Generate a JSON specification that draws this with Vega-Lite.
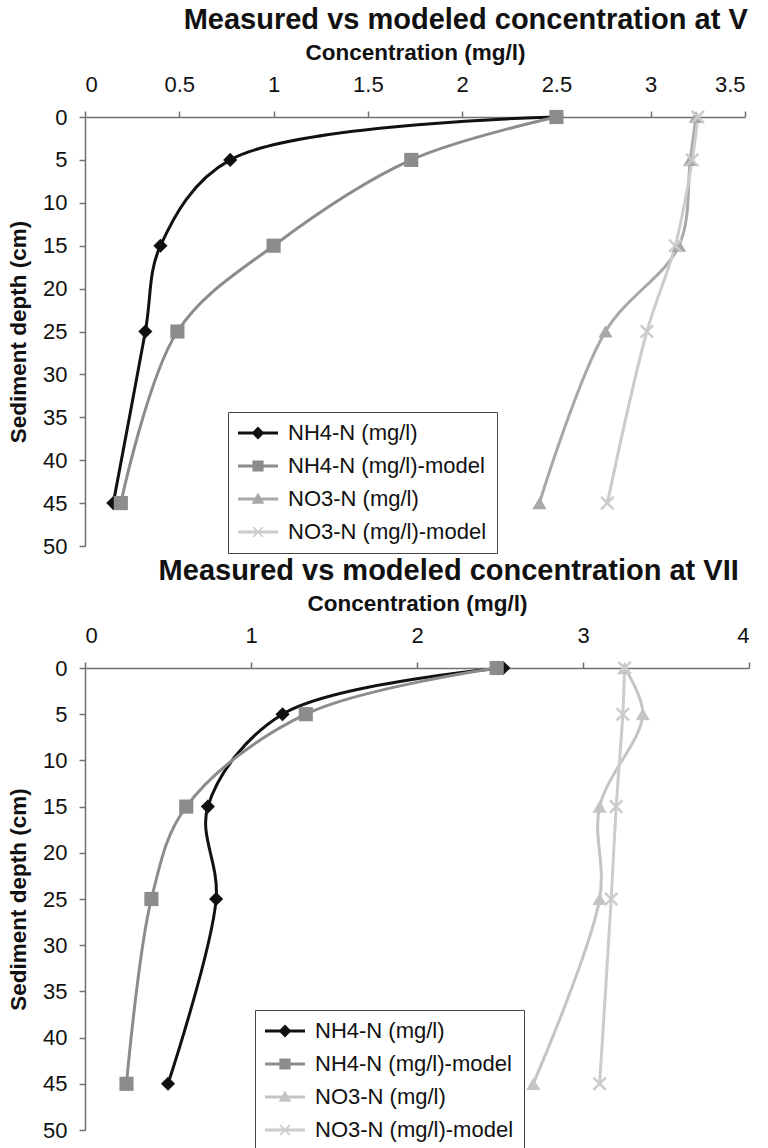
{
  "$schema": "https://vega.github.io/schema/vega-lite/v6.json",
  "background": "white",
  "padding": {"left": 7, "top": 6, "right": 4, "bottom": 0},
  "spacing": 0,
  "config": {
    "font": "Liberation Sans",
    "view": {"stroke": null},
    "axis": {"grid": false, "domainColor": "#707070", "domainWidth": 1.5, "tickColor": "#707070", "tickWidth": 1.5, "tickSize": 6, "labelFontSize": 22, "labelColor": "#111111", "titleFontSize": 22.5, "titleFontWeight": "bold", "titleColor": "#111111", "labelFont": "Liberation Sans", "titleFont": "Liberation Sans"},
    "title": {"font": "Liberation Sans", "fontSize": 29, "fontWeight": "bold", "color": "#111111"}
  },
  "resolve": {"scale": {"color": "independent", "shape": "independent", "fill": "independent"}, "legend": {"color": "independent", "shape": "independent", "fill": "independent"}},
  "vconcat": [
    {
      "width": 660,
      "height": 429,
      "title": {"text": "Measured vs modeled concentration at V", "anchor": "end", "dx": 2, "offset": 6},
      "data": {"values": [
        {"series": "NH4-N (mg/l)", "depth": 0, "conc": 2.5},
        {"series": "NH4-N (mg/l)", "depth": 5, "conc": 0.77},
        {"series": "NH4-N (mg/l)", "depth": 15, "conc": 0.4},
        {"series": "NH4-N (mg/l)", "depth": 25, "conc": 0.32},
        {"series": "NH4-N (mg/l)", "depth": 45, "conc": 0.15},
        {"series": "NH4-N (mg/l)-model", "depth": 0, "conc": 2.5},
        {"series": "NH4-N (mg/l)-model", "depth": 5, "conc": 1.73},
        {"series": "NH4-N (mg/l)-model", "depth": 15, "conc": 1.0},
        {"series": "NH4-N (mg/l)-model", "depth": 25, "conc": 0.49},
        {"series": "NH4-N (mg/l)-model", "depth": 45, "conc": 0.19},
        {"series": "NO3-N (mg/l)", "depth": 0, "conc": 3.24},
        {"series": "NO3-N (mg/l)", "depth": 5, "conc": 3.21},
        {"series": "NO3-N (mg/l)", "depth": 15, "conc": 3.15},
        {"series": "NO3-N (mg/l)", "depth": 25, "conc": 2.76},
        {"series": "NO3-N (mg/l)", "depth": 45, "conc": 2.41},
        {"series": "NO3-N (mg/l)-model", "depth": 0, "conc": 3.25},
        {"series": "NO3-N (mg/l)-model", "depth": 5, "conc": 3.22},
        {"series": "NO3-N (mg/l)-model", "depth": 15, "conc": 3.13},
        {"series": "NO3-N (mg/l)-model", "depth": 25, "conc": 2.98},
        {"series": "NO3-N (mg/l)-model", "depth": 45, "conc": 2.77}
      ]},
      "encoding": {
        "x": {"field": "conc", "type": "quantitative", "scale": {"domain": [0, 3.5], "nice": false, "zero": false},
          "axis": {"orient": "top", "values": [0, 0.5, 1, 1.5, 2, 2.5, 3, 3.5], "format": "~g", "title": "Concentration (mg/l)", "labelPadding": 15, "titlePadding": 9}},
        "y": {"field": "depth", "type": "quantitative", "scale": {"domain": [0, 50], "reverse": true, "nice": false},
          "axis": {"values": [0, 5, 10, 15, 20, 25, 30, 35, 40, 45, 50], "title": "Sediment depth (cm)", "labelPadding": 12, "titlePadding": 12}}
      },
      "layer": [
        {"mark": {"type": "line", "interpolate": "catmull-rom", "strokeWidth": 3},
          "encoding": {
            "order": {"field": "depth", "type": "quantitative"},
            "color": {"field": "series", "type": "nominal",
              "scale": {"domain": ["NH4-N (mg/l)", "NH4-N (mg/l)-model", "NO3-N (mg/l)", "NO3-N (mg/l)-model"], "range": ["#111111", "#8c8c8c", "#a8a8a8", "#cccccc"]},
              "legend": {"orient": "none", "legendX": 143, "legendY": 295, "title": null, "strokeColor": "#444444", "padding": 10, "labelFontSize": 22, "labelColor": "#111111", "labelFont": "Liberation Sans", "labelLimit": 400, "symbolSize": 64, "labelOffset": 28, "rowPadding": 11, "symbolStrokeWidth": 0,
                "encode": {"symbols": {"update": {
                  "shape": {"signal": "datum.value === 'NH4-N (mg/l)' ? 'M-2.75,-0.4H7.25V0.4H-2.75Z M2.25,-1.6L3.85,0L2.25,1.6L0.65,0Z' : datum.value === 'NH4-N (mg/l)-model' ? 'M-2.75,-0.4H7.25V0.4H-2.75Z M0.85,-1.4H3.65V1.4H0.85Z' : datum.value === 'NO3-N (mg/l)' ? 'M-2.75,-0.4H7.25V0.4H-2.75Z M2.25,-1.6L3.85,1.2H0.65Z' : 'M-2.75,-0.4H7.25V0.4H-2.75Z M0.85,-1.1L1.15,-1.4L2.25,-0.3L3.35,-1.4L3.65,-1.1L2.55,0L3.65,1.1L3.35,1.4L2.25,0.3L1.15,1.4L0.85,1.1L1.95,0Z'"},
                  "fill": {"signal": "datum.value === 'NH4-N (mg/l)' ? '#111111' : datum.value === 'NH4-N (mg/l)-model' ? '#8c8c8c' : datum.value === 'NO3-N (mg/l)' ? '#a8a8a8' : '#cccccc'"},
                  "strokeWidth": {"value": 0},
                  "opacity": {"value": 1}
                }}}}}
          }},
        {"mark": {"type": "point", "filled": true, "opacity": 1, "size": 200},
          "encoding": {
            "fill": {"field": "series", "type": "nominal", "legend": null,
              "scale": {"domain": ["NH4-N (mg/l)", "NH4-N (mg/l)-model", "NO3-N (mg/l)", "NO3-N (mg/l)-model"], "range": ["#111111", "#8c8c8c", "#a8a8a8", "#cccccc"]}},
            "shape": {"field": "series", "type": "nominal", "legend": null,
              "scale": {"domain": ["NO3-N (mg/l)-model", "NO3-N (mg/l)", "NH4-N (mg/l)-model", "NH4-N (mg/l)"], "range": ["M-1,-0.75L-0.75,-1L0,-0.25L0.75,-1L1,-0.75L0.25,0L1,0.75L0.75,1L0,0.25L-0.75,1L-1,0.75L-0.25,0Z", "triangle-up", "square", "diamond"]}}
          }}
      ]
    },
    {
      "width": 664,
      "height": 462,
      "title": {"text": "Measured vs modeled concentration at VII", "anchor": "end", "dx": -11, "offset": 6},
      "data": {"values": [
        {"series": "NH4-N (mg/l)", "depth": 0, "conc": 2.52},
        {"series": "NH4-N (mg/l)", "depth": 5, "conc": 1.19},
        {"series": "NH4-N (mg/l)", "depth": 15, "conc": 0.74},
        {"series": "NH4-N (mg/l)", "depth": 25, "conc": 0.79},
        {"series": "NH4-N (mg/l)", "depth": 45, "conc": 0.5},
        {"series": "NH4-N (mg/l)-model", "depth": 0, "conc": 2.48},
        {"series": "NH4-N (mg/l)-model", "depth": 5, "conc": 1.33},
        {"series": "NH4-N (mg/l)-model", "depth": 15, "conc": 0.61},
        {"series": "NH4-N (mg/l)-model", "depth": 25, "conc": 0.4},
        {"series": "NH4-N (mg/l)-model", "depth": 45, "conc": 0.25},
        {"series": "NO3-N (mg/l)", "depth": 0, "conc": 3.25},
        {"series": "NO3-N (mg/l)", "depth": 5, "conc": 3.36},
        {"series": "NO3-N (mg/l)", "depth": 15, "conc": 3.1},
        {"series": "NO3-N (mg/l)", "depth": 25, "conc": 3.1},
        {"series": "NO3-N (mg/l)", "depth": 45, "conc": 2.7},
        {"series": "NO3-N (mg/l)-model", "depth": 0, "conc": 3.25},
        {"series": "NO3-N (mg/l)-model", "depth": 5, "conc": 3.24},
        {"series": "NO3-N (mg/l)-model", "depth": 15, "conc": 3.2},
        {"series": "NO3-N (mg/l)-model", "depth": 25, "conc": 3.17},
        {"series": "NO3-N (mg/l)-model", "depth": 45, "conc": 3.1}
      ]},
      "encoding": {
        "x": {"field": "conc", "type": "quantitative", "scale": {"domain": [0, 4], "nice": false, "zero": false},
          "axis": {"orient": "top", "values": [0, 1, 2, 3, 4], "format": "~g", "title": "Concentration (mg/l)", "labelPadding": 15, "titlePadding": 9}},
        "y": {"field": "depth", "type": "quantitative", "scale": {"domain": [0, 50], "reverse": true, "nice": false},
          "axis": {"values": [0, 5, 10, 15, 20, 25, 30, 35, 40, 45, 50], "title": "Sediment depth (cm)", "labelPadding": 12, "titlePadding": 12}}
      },
      "layer": [
        {"mark": {"type": "line", "interpolate": "catmull-rom", "strokeWidth": 3},
          "encoding": {
            "order": {"field": "depth", "type": "quantitative"},
            "color": {"field": "series", "type": "nominal",
              "scale": {"domain": ["NH4-N (mg/l)", "NH4-N (mg/l)-model", "NO3-N (mg/l)", "NO3-N (mg/l)-model"], "range": ["#111111", "#8c8c8c", "#c4c4c4", "#cccccc"]},
              "legend": {"orient": "none", "legendX": 170, "legendY": 342, "title": null, "strokeColor": "#444444", "padding": 10, "labelFontSize": 22, "labelColor": "#111111", "labelFont": "Liberation Sans", "labelLimit": 400, "symbolSize": 64, "labelOffset": 28, "rowPadding": 11, "symbolStrokeWidth": 0,
                "encode": {"symbols": {"update": {
                  "shape": {"signal": "datum.value === 'NH4-N (mg/l)' ? 'M-2.75,-0.4H7.25V0.4H-2.75Z M2.25,-1.6L3.85,0L2.25,1.6L0.65,0Z' : datum.value === 'NH4-N (mg/l)-model' ? 'M-2.75,-0.4H7.25V0.4H-2.75Z M0.85,-1.4H3.65V1.4H0.85Z' : datum.value === 'NO3-N (mg/l)' ? 'M-2.75,-0.4H7.25V0.4H-2.75Z M2.25,-1.6L3.85,1.2H0.65Z' : 'M-2.75,-0.4H7.25V0.4H-2.75Z M0.85,-1.1L1.15,-1.4L2.25,-0.3L3.35,-1.4L3.65,-1.1L2.55,0L3.65,1.1L3.35,1.4L2.25,0.3L1.15,1.4L0.85,1.1L1.95,0Z'"},
                  "fill": {"signal": "datum.value === 'NH4-N (mg/l)' ? '#111111' : datum.value === 'NH4-N (mg/l)-model' ? '#8c8c8c' : datum.value === 'NO3-N (mg/l)' ? '#c4c4c4' : '#cccccc'"},
                  "strokeWidth": {"value": 0},
                  "opacity": {"value": 1}
                }}}}}
          }},
        {"mark": {"type": "point", "filled": true, "opacity": 1, "size": 200},
          "encoding": {
            "fill": {"field": "series", "type": "nominal", "legend": null,
              "scale": {"domain": ["NH4-N (mg/l)", "NH4-N (mg/l)-model", "NO3-N (mg/l)", "NO3-N (mg/l)-model"], "range": ["#111111", "#8c8c8c", "#c4c4c4", "#cccccc"]}},
            "shape": {"field": "series", "type": "nominal", "legend": null,
              "scale": {"domain": ["NO3-N (mg/l)-model", "NO3-N (mg/l)", "NH4-N (mg/l)-model", "NH4-N (mg/l)"], "range": ["M-1,-0.75L-0.75,-1L0,-0.25L0.75,-1L1,-0.75L0.25,0L1,0.75L0.75,1L0,0.25L-0.75,1L-1,0.75L-0.25,0Z", "triangle-up", "square", "diamond"]}}
          }}
      ]
    }
  ]
}
